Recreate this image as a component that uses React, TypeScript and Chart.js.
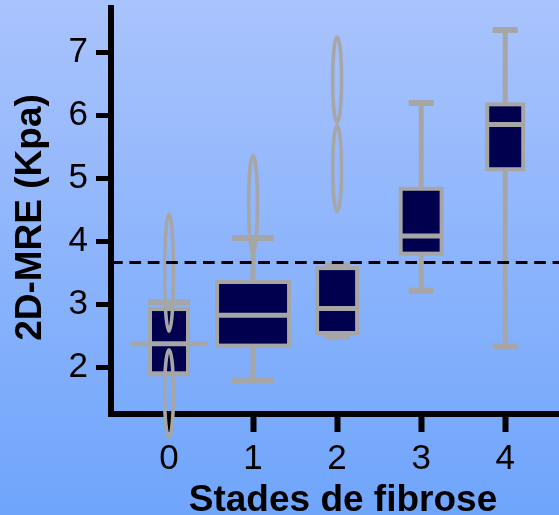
import React, { useEffect, useRef } from "react";
import { Chart, registerables } from "chart.js";

Chart.register(...registerables);

// ---- data ----
const categories = [0, 1, 2, 3, 4];
const categoryLabels = ["0", "1", "2", "3", "4"];
const yTickValues = [2, 3, 4, 5, 6, 7];
const whiskerLow = [1.9, 1.79, 2.48, 3.21, 2.32];
const quartile1 = [1.9, 2.34, 2.54, 3.8, 5.14];
const medians = [2.37, 2.82, 2.93, 4.08, 5.85];
const quartile3 = [2.92, 3.35, 3.57, 4.83, 6.17];
const whiskerHigh = [3.03, 4.05, 3.61, 6.19, 7.35];
const outlierStage = [0, 0, 1, 2, 2];
const outlierValue = [3.5, 1.58, 4.59, 6.56, 5.15];
const cutoffValue = 3.66;
const xTitle = "Stades de fibrose";
const yTitle = "2D-MRE (Kpa)";

// ---- axis extents ----
const X_MIN = -0.69;
const X_MAX = 4.64;
const Y_MIN = 1.254;
const Y_MAX = 7.7;

// ---- styles (pixel sizes) ----
const boxWidths = [38, 72, 40, 41, 36];
const capWidths = [42, 42, 25, 25, 25];
const medianWidths = [77, 72, 40, 41, 36];
const outlierHeights = [121, 91, 101, 89, 89];

const GRAY = "#a6a6a6";
const NAVY = "#00004f";
const FONT = "'Liberation Sans', Arial, Helvetica, sans-serif";

function makeEllipse(h: number): HTMLCanvasElement {
  const c = document.createElement("canvas");
  c.width = 14;
  c.height = Math.round(h) + 2;
  const ctx = c.getContext("2d")!;
  ctx.strokeStyle = GRAY;
  ctx.lineWidth = 3.5;
  ctx.beginPath();
  ctx.ellipse(c.width / 2, c.height / 2, 4.4, (h - 3.5) / 2, 0, 0, Math.PI * 2);
  ctx.stroke();
  return c;
}

const backgroundPlugin = {
  id: "bg",
  beforeDraw(chart: any) {
    const { ctx, width, height } = chart;
    const g = ctx.createLinearGradient(0, 0, 0, height);
    g.addColorStop(0, "#a9c3fd");
    g.addColorStop(1, "#6fa5fb");
    ctx.save();
    ctx.fillStyle = g;
    ctx.fillRect(0, 0, width, height);
    ctx.restore();
  },
};

const boxPlugin = {
  id: "boxes",
  beforeDatasetsDraw(chart: any) {
    const { ctx } = chart;
    const x = chart.scales.x;
    const y = chart.scales.y;
    ctx.save();
    categories.forEach((c, i) => {
      const cx = x.getPixelForValue(c);
      const yLo = y.getPixelForValue(whiskerLow[i]);
      const yQ1 = y.getPixelForValue(quartile1[i]);
      const yMed = y.getPixelForValue(medians[i]);
      const yQ3 = y.getPixelForValue(quartile3[i]);
      const yHi = y.getPixelForValue(whiskerHigh[i]);
      const bw = boxWidths[i];
      const cw = capWidths[i];
      const mw = medianWidths[i];
      ctx.strokeStyle = GRAY;
      ctx.lineCap = "butt";
      // stems
      ctx.lineWidth = 5;
      ctx.beginPath();
      ctx.moveTo(cx, yHi);
      ctx.lineTo(cx, yQ3);
      ctx.moveTo(cx, yQ1);
      ctx.lineTo(cx, yLo);
      ctx.stroke();
      // caps
      ctx.lineWidth = 6;
      ctx.beginPath();
      ctx.moveTo(cx - cw / 2, yHi);
      ctx.lineTo(cx + cw / 2, yHi);
      ctx.moveTo(cx - cw / 2, yLo);
      ctx.lineTo(cx + cw / 2, yLo);
      ctx.stroke();
      // box
      ctx.fillStyle = NAVY;
      ctx.fillRect(cx - bw / 2, yQ3, bw, yQ1 - yQ3);
      ctx.lineWidth = 4;
      ctx.strokeRect(cx - bw / 2, yQ3, bw, yQ1 - yQ3);
      // median
      ctx.lineWidth = 5;
      ctx.beginPath();
      ctx.moveTo(cx - mw / 2, yMed);
      ctx.lineTo(cx + mw / 2, yMed);
      ctx.stroke();
    });
    ctx.restore();
  },
};

const titlePlugin = {
  id: "titles",
  afterDraw(chart: any) {
    const { ctx, chartArea } = chart;
    ctx.save();
    ctx.fillStyle = "#000";
    ctx.font = `bold 37px ${FONT}`;
    ctx.textAlign = "center";
    ctx.textBaseline = "alphabetic";
    ctx.fillText(xTitle, (chartArea.left + chartArea.right) / 2 + 8, chart.height - 4);
    ctx.translate(41, (chartArea.top + chartArea.bottom) / 2 + 6.5);
    ctx.rotate(-Math.PI / 2);
    ctx.fillText(yTitle, 0, 0);
    ctx.restore();
  },
};

export default function App() {
  const ref = useRef<HTMLCanvasElement | null>(null);

  useEffect(() => {
    document.body.style.margin = "0";
    const canvas = ref.current!;
    const ellipses = outlierHeights.map(makeEllipse);
    const chart = new Chart(canvas, {
      type: "scatter",
      data: {
        datasets: [
          {
            label: "cutoff",
            data: [
              { x: X_MIN, y: cutoffValue },
              { x: X_MAX, y: cutoffValue },
            ],
            showLine: true,
            borderColor: "#000",
            borderWidth: 3,
            borderDash: [11.7, 6.7],
            pointRadius: 0,
            order: 0,
          } as any,
          {
            label: "outliers",
            data: outlierStage.map((s, i) => ({ x: s, y: outlierValue[i] })),
            pointStyle: (ctx: any) => ellipses[ctx.dataIndex],
            pointRadius: 5,
            clip: false,
            order: 1,
          } as any,
        ],
      },
      options: {
        animation: false,
        responsive: false,
        devicePixelRatio: 1,
        events: [],
        layout: { autoPadding: false, padding: { top: 8, right: 0, left: 0, bottom: 0 } },
        plugins: {
          legend: { display: false },
          tooltip: { enabled: false },
        },
        scales: {
          x: {
            type: "linear",
            min: X_MIN,
            max: X_MAX,
            z: 1,
            afterBuildTicks: (s: any) => {
              s.ticks = categories.map((v) => ({ value: v }));
            },
            afterFit: (s: any) => {
              s.height = 101;
              s.paddingLeft = 0;
              s.paddingRight = 0;
              s.paddingTop = 0;
              s.paddingBottom = 0;
            },
            ticks: {
              callback: (v: any) => {
                const i = categories.indexOf(Number(v));
                return i >= 0 ? categoryLabels[i] : "";
              },
              color: "#000",
              font: { family: FONT, size: 35 },
              padding: 6,
              maxRotation: 0,
              autoSkip: false,
            },
            grid: {
              drawOnChartArea: false,
              drawTicks: true,
              tickLength: 18,
              tickWidth: 6,
              tickColor: "#000",
            },
            border: { display: true, color: "#000", width: 6 },
          },
          y: {
            type: "linear",
            min: Y_MIN,
            max: Y_MAX,
            afterBuildTicks: (s: any) => {
              s.ticks = yTickValues.map((v) => ({ value: v }));
            },
            afterFit: (s: any) => {
              s.width = 111;
              s.paddingLeft = 0;
              s.paddingRight = 0;
              s.paddingTop = 0;
              s.paddingBottom = 0;
            },
            ticks: {
              callback: (v: any) => String(v),
              color: "#000",
              font: { family: FONT, size: 35 },
              padding: 8,
              autoSkip: false,
            },
            grid: {
              drawOnChartArea: false,
              drawTicks: true,
              tickLength: 15,
              tickWidth: 5,
              tickColor: "#000",
            },
            border: { display: true, color: "#000", width: 6 },
          },
        },
      } as any,
      plugins: [backgroundPlugin, boxPlugin, titlePlugin],
    });
    return () => chart.destroy();
  }, []);

  return (
    <div style={{ position: "absolute", left: 0, top: 0 }}>
      <canvas ref={ref} width={559} height={515} style={{ display: "block" }} />
    </div>
  );
}
